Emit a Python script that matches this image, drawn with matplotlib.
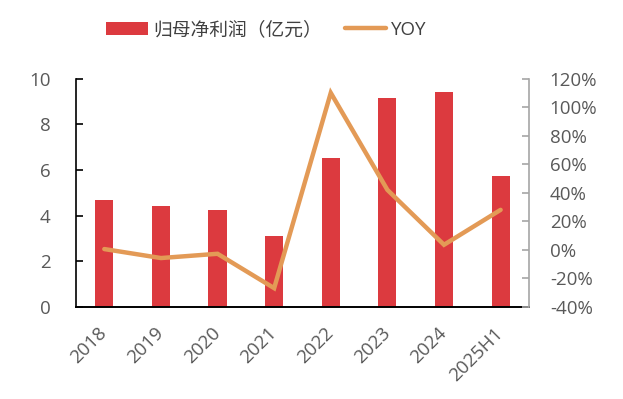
import matplotlib
matplotlib.use("Agg")
import matplotlib.pyplot as plt
from matplotlib.ticker import FuncFormatter

plt.rcParams['font.family'] = ['Open Sans', 'Noto Sans CJK SC', 'DejaVu Sans']

categories = ["2018", "2019", "2020", "2021", "2022", "2023", "2024", "2025H1"]
profit = [4.68, 4.40, 4.25, 3.10, 6.50, 9.15, 9.42, 5.73]
yoy = [0.5, -5.8, -2.8, -26.9, 110.0, 42.0, 3.5, 28.0]

bar_label = "归母净利润（亿元）"
line_label = "YOY"

fig = plt.figure(figsize=(6.23, 3.99), dpi=100)
ax = fig.add_axes([0.122, 0.231, 0.727, 0.572])
ax2 = ax.twinx()

x = list(range(len(categories)))
bars = ax.bar(x, profit, width=0.32, color="#DC3A3F", zorder=2, label=bar_label)
line, = ax2.plot(x, yoy, color="#E39A56", linewidth=3.2, solid_capstyle="round",
                 solid_joinstyle="miter", zorder=3, label=line_label)

ax.set_xlim(-0.5, len(categories) - 0.5)
ax.set_ylim(0, 10)
ax.set_yticks([0, 2, 4, 6, 8, 10])
ax2.set_ylim(-40, 120)
ax2.set_yticks(list(range(-40, 121, 20)))
ax2.yaxis.set_major_formatter(FuncFormatter(lambda v, p: f"{int(v)}%"))

ax.set_xticks(x)
ax.set_xticklabels(categories, rotation=45, ha="right", va="center", rotation_mode="anchor")

tick_color = "#595959"
for a in (ax, ax2):
    a.spines["top"].set_visible(False)
    a.tick_params(colors=tick_color, labelsize=13.5)
ax.spines["right"].set_visible(False)
ax2.spines["left"].set_visible(False)
ax2.spines["bottom"].set_visible(False)
ax.spines["left"].set_color("black")
ax.spines["bottom"].set_color("black")
ax.spines["left"].set_linewidth(1.2)
ax.spines["bottom"].set_linewidth(1.4)
ax2.spines["right"].set_color("#A6A6A6")
ax2.spines["right"].set_linewidth(1.2)
ax.tick_params(axis="y", direction="in", length=5, width=1.2, color="black", pad=18.5)
ax.tick_params(axis="x", length=0, pad=17)
ax2.tick_params(axis="y", direction="in", length=5, width=1.2, color="#A6A6A6", pad=15)
ax.tick_params(axis="y", labelcolor=tick_color)
ax.tick_params(axis="x", labelcolor=tick_color)

fig.legend([bars, line], [bar_label, line_label], loc="center", bbox_to_anchor=(0.428, 0.925),
           ncol=2, frameon=False, fontsize=13.5, handlelength=2.2, handleheight=0.7,
           columnspacing=1.2, handletextpad=0.3, labelcolor="#404040")

fig.savefig("out.png", dpi=100)
